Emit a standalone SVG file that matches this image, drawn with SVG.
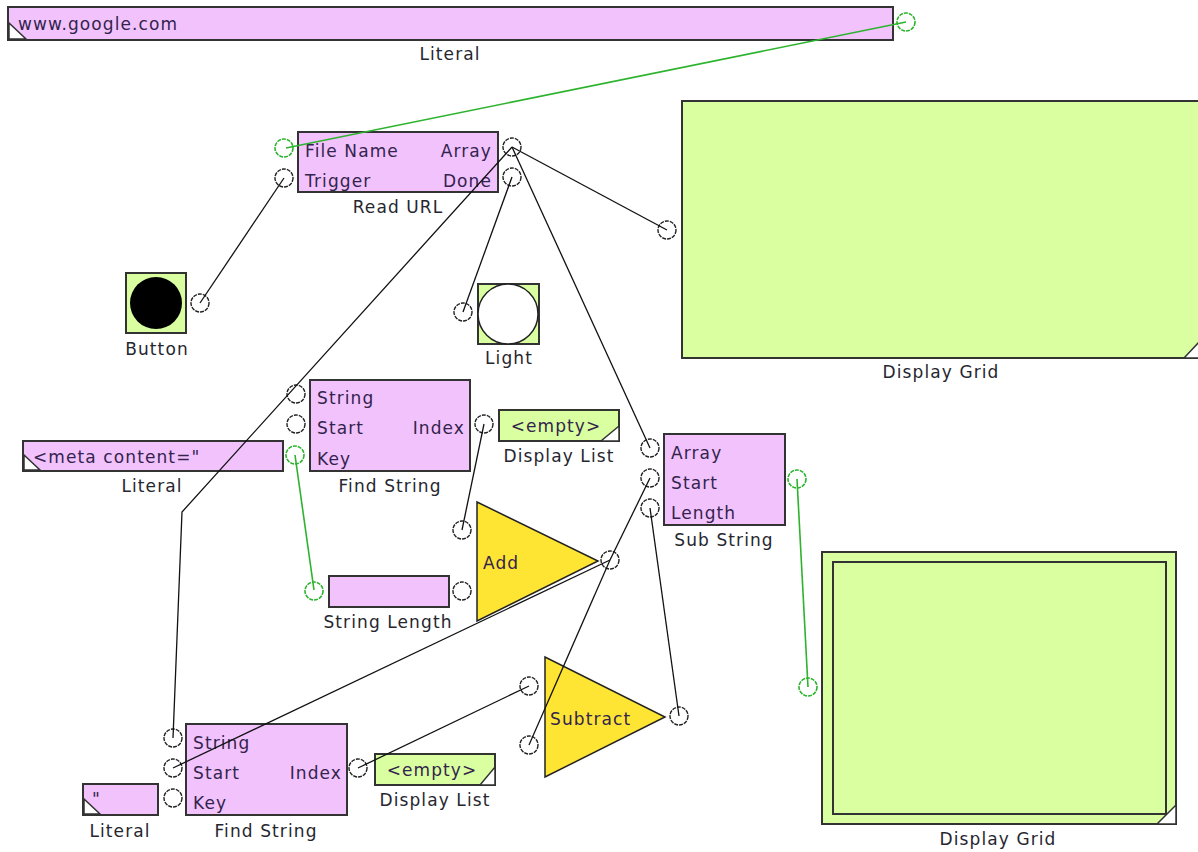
<svg xmlns="http://www.w3.org/2000/svg" width="1198" height="852" viewBox="0 0 1198 852">
<style>
.pink{fill:#f2c2fd;stroke:#333;stroke-width:2}
.lime{fill:#daffa0;stroke:#333;stroke-width:2}
.yel{fill:#ffe533;stroke:#222;stroke-width:1.5}
.corner{fill:#fff;stroke:#333;stroke-width:1.5}
.port{fill:none;stroke:#222;stroke-width:1.4;stroke-dasharray:4 1}
.gport{fill:none;stroke:#2db32d;stroke-width:1.6;stroke-dasharray:4 1}
.t{font-family:"DejaVu Sans",Verdana,sans-serif;font-size:17px;fill:#33244d;letter-spacing:1.1px}
.lbl{font-family:"DejaVu Sans",Verdana,sans-serif;font-size:17px;fill:#26262f;letter-spacing:1.1px;text-anchor:middle}
.w{stroke:#111;stroke-width:1.3;fill:none}
.gw{stroke:#2db32d;stroke-width:1.6;fill:none}
</style>
<g id="literal-top">
<rect class="pink" x="8" y="7" width="885" height="33"/>
<polygon class="corner" points="9,23 9,39 26,39"/>
<text class="t" x="18" y="30">www.google.com</text>
<text class="lbl" x="450" y="60">Literal</text>
<circle class="gport" cx="906" cy="22" r="9"/>
</g>
<g id="read-url">
<rect class="pink" x="298" y="132" width="200" height="60"/>
<text class="t" x="305" y="157">File Name</text>
<text class="t" x="305" y="187">Trigger</text>
<text class="t" x="492" y="157" text-anchor="end">Array</text>
<text class="t" x="492" y="187" text-anchor="end">Done</text>
<text class="lbl" x="398" y="213">Read URL</text>
<circle class="gport" cx="284" cy="148" r="9"/>
<circle class="port" cx="284" cy="178" r="9"/>
<circle class="port" cx="512" cy="147" r="9"/>
<circle class="port" cx="512" cy="177" r="9"/>
</g>
<g id="button">
<rect class="lime" x="126" y="273" width="60" height="60"/>
<circle cx="156" cy="303" r="26" fill="#000"/>
<text class="lbl" x="157" y="355">Button</text>
<circle class="port" cx="200" cy="303" r="9"/>
</g>
<g id="light">
<rect class="lime" x="478" y="284" width="61" height="60"/>
<circle cx="508" cy="314" r="30" fill="#fff" stroke="#222" stroke-width="1.5"/>
<text class="lbl" x="509" y="364">Light</text>
<circle class="port" cx="463" cy="312" r="9"/>
</g>
<g id="display-grid-top">
<rect class="lime" x="682" y="101" width="518" height="257"/>
<polygon class="corner" points="1199,342 1199,358 1184,358"/>
<text class="lbl" x="941" y="378">Display Grid</text>
<circle class="port" cx="667" cy="230" r="9"/>
</g>
<g id="find-string-top">
<rect class="pink" x="310" y="380" width="160" height="91"/>
<text class="t" x="317" y="404">String</text>
<text class="t" x="317" y="434">Start</text>
<text class="t" x="317" y="465">Key</text>
<text class="t" x="465" y="434" text-anchor="end">Index</text>
<text class="lbl" x="390" y="492">Find String</text>
<circle class="port" cx="296" cy="394" r="9"/>
<circle class="port" cx="296" cy="424" r="9"/>
<circle class="gport" cx="295" cy="455" r="9"/>
<circle class="port" cx="484" cy="424" r="9"/>
</g>
<g id="display-list-top">
<rect class="lime" x="499" y="410" width="120" height="31"/>
<polygon class="corner" points="619,426 619,441 601,441"/>
<text class="t" x="556" y="432" text-anchor="middle">&lt;empty&gt;</text>
<text class="lbl" x="559" y="462">Display List</text>
</g>
<g id="literal-meta">
<rect class="pink" x="23" y="441" width="260" height="30"/>
<polygon class="corner" points="24,455 24,470 40,470"/>
<text class="t" x="33" y="463">&lt;meta content="</text>
<text class="lbl" x="152" y="492">Literal</text>
</g>
<g id="sub-string">
<rect class="pink" x="664" y="434" width="121" height="91"/>
<text class="t" x="671" y="459">Array</text>
<text class="t" x="671" y="489">Start</text>
<text class="t" x="671" y="519">Length</text>
<text class="lbl" x="724" y="546">Sub String</text>
<circle class="port" cx="650" cy="448" r="9"/>
<circle class="port" cx="650" cy="478" r="9"/>
<circle class="port" cx="650" cy="508" r="9"/>
<circle class="gport" cx="797" cy="479" r="9"/>
</g>
<g id="string-length">
<rect class="pink" x="329" y="576" width="120" height="31"/>
<text class="lbl" x="388" y="628">String Length</text>
<circle class="gport" cx="314" cy="591" r="9"/>
<circle class="port" cx="462" cy="591" r="9"/>
</g>
<g id="add">
<polygon class="yel" points="477,502 477,621 598,561"/>
<text class="t" x="483" y="569">Add</text>
<circle class="port" cx="462" cy="530" r="9"/>
<circle class="port" cx="610" cy="560" r="9"/>
</g>
<g id="subtract">
<polygon class="yel" points="545,657 545,777 665,717"/>
<text class="t" x="550" y="725">Subtract</text>
<circle class="port" cx="529" cy="686" r="9"/>
<circle class="port" cx="529" cy="745" r="9"/>
<circle class="port" cx="679" cy="716" r="9"/>
</g>
<g id="display-grid-bottom">
<rect class="lime" x="822" y="552" width="354" height="272"/>
<rect fill="none" stroke="#333" stroke-width="2" x="833" y="562" width="333" height="252"/>
<polygon class="corner" points="1176,805 1176,824 1157,824"/>
<text class="lbl" x="998" y="845">Display Grid</text>
<circle class="gport" cx="808" cy="687" r="9"/>
</g>
<g id="find-string-bottom">
<rect class="pink" x="186" y="724" width="161" height="91"/>
<text class="t" x="193" y="749">String</text>
<text class="t" x="193" y="779">Start</text>
<text class="t" x="193" y="809">Key</text>
<text class="t" x="342" y="779" text-anchor="end">Index</text>
<text class="lbl" x="266" y="837">Find String</text>
<circle class="port" cx="173" cy="738" r="9"/>
<circle class="port" cx="173" cy="768" r="9"/>
<circle class="port" cx="173" cy="798" r="9"/>
<circle class="port" cx="358" cy="768" r="9"/>
</g>
<g id="literal-quote">
<rect class="pink" x="83" y="784" width="75" height="31"/>
<polygon class="corner" points="84,799 84,814 100,814"/>
<text class="t" x="92" y="805">"</text>
<text class="lbl" x="120" y="837">Literal</text>
</g>
<g id="display-list-bottom">
<rect class="lime" x="375" y="754" width="120" height="31"/>
<polygon class="corner" points="495,767 495,785 480,785"/>
<text class="t" x="432" y="776" text-anchor="middle">&lt;empty&gt;</text>
<text class="lbl" x="435" y="806">Display List</text>
</g>
<g id="connectors">
<line class="gw" x1="906" y1="22" x2="286" y2="148"/>
<line class="w" x1="200" y1="303" x2="284" y2="178"/>
<line class="w" x1="512" y1="147" x2="667" y2="230"/>
<line class="w" x1="512" y1="147" x2="650" y2="448"/>
<polyline class="w" points="512,147 182,512 173,738"/>
<line class="w" x1="512" y1="177" x2="463" y2="312"/>
<line class="w" x1="484" y1="424" x2="462" y2="530"/>
<line class="gw" x1="295" y1="455" x2="314" y2="590"/>
<line class="w" x1="610" y1="560" x2="173" y2="768"/>
<line class="w" x1="610" y1="560" x2="650" y2="478"/>
<line class="w" x1="610" y1="560" x2="529" y2="745"/>
<line class="w" x1="358" y1="768" x2="529" y2="686"/>
<line class="w" x1="679" y1="716" x2="650" y2="508"/>
<line class="gw" x1="797" y1="479" x2="808" y2="687"/>
</g>
</svg>
